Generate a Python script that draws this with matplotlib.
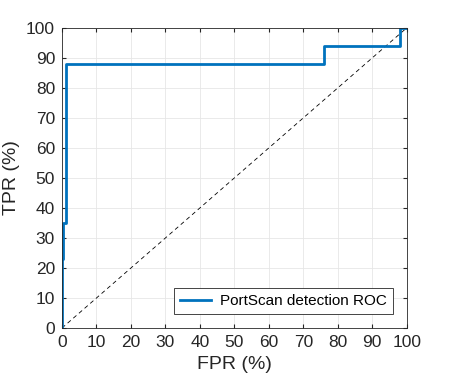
import matplotlib
matplotlib.use('Agg')
import matplotlib.pyplot as plt

# ROC curve points (percent)
fpr = [0, 0, 0.3, 0.3, 1.2, 1.2, 76, 76, 98, 98, 100]
tpr = [0, 23, 23, 35, 35, 88, 88, 94, 94, 100, 100]
ticks = [0, 10, 20, 30, 40, 50, 60, 70, 80, 90, 100]

plt.rcParams['font.family'] = ['Liberation Sans', 'DejaVu Sans']

fig = plt.figure(figsize=(4.49, 3.81), dpi=100)
ax = fig.add_axes([0.138, 0.139, 0.768, 0.788])

ax.plot([0, 100], [0, 100], '--', color='black', linewidth=0.6, dashes=(5, 4))
ax.plot(fpr, tpr, color=(0, 0.447, 0.741), linewidth=2, label='PortScan detection ROC')

ax.set_xlim(0, 100)
ax.set_ylim(0, 100)
ax.set_xticks(ticks)
ax.set_yticks(ticks)
ax.tick_params(direction='in', length=3, labelsize=12.5, colors='#262626', top=True, right=True,
               labeltop=False, labelright=False, pad=5)
ax.grid(True, color='#e6e6e6', linewidth=0.6)
ax.set_axisbelow(True)
for s in ax.spines.values():
    s.set_color('#262626')
    s.set_linewidth(0.6)

ax.set_xlabel('FPR (%)', fontsize=14, color='#262626', labelpad=4)
ax.set_ylabel('TPR (%)', fontsize=14, color='#262626', labelpad=4)

leg = ax.legend(loc='lower right', fontsize=11, fancybox=False, framealpha=1,
                edgecolor='#262626', handlelength=2.0, borderaxespad=0.9,
                borderpad=0.4, handletextpad=0.6)
leg.get_frame().set_linewidth(0.6)

fig.savefig('out.png', dpi=100)
